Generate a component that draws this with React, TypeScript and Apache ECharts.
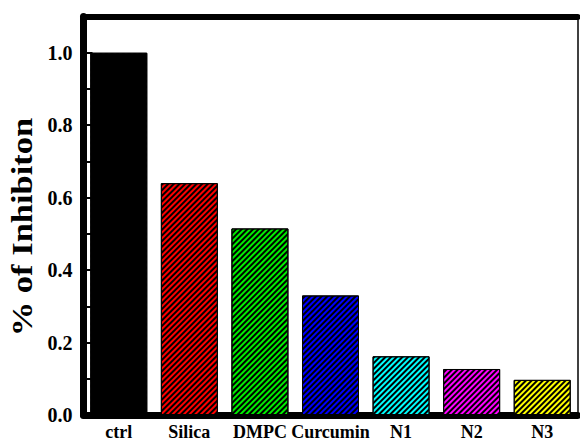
import React, { useEffect, useRef } from "react";
import * as echarts from "echarts";

const categories = ["ctrl", "Silica", "DMPC", "Curcumin", "N1", "N2", "N3"];
const values = [1.0, 0.64, 0.515, 0.33, 0.162, 0.127, 0.097];
const barColors = ["#000000", "#ff0000", "#00ee00", "#0000ff", "#00ffff", "#ff00ff", "#ffff00"];
const yAxisTitle = "% of Inhibiton";

export default function App() {
  const ref = useRef<HTMLDivElement>(null);
  useEffect(() => {
    if (!ref.current) return;
    const chart = echarts.init(ref.current, null, { renderer: "svg" });
    const font = "'Liberation Serif', 'Times New Roman', serif";
    chart.setOption({
      animation: false,
      grid: { left: 83.5, right: 2.5, top: 16.5, bottom: 22.5 },
      xAxis: [
        {
          type: "category",
          data: categories,
          position: "bottom",
          axisLine: { show: true, onZero: false, lineStyle: { color: "#000", width: 7 } },
          axisTick: { show: false },
          axisLabel: { color: "#000", fontFamily: font, fontWeight: "bold", fontSize: 18, margin: 8, interval: 0 },
        },
        {
          type: "category",
          data: categories,
          position: "top",
          axisLine: { show: true, onZero: false, lineStyle: { color: "#000", width: 6 } },
          axisTick: { show: false },
          axisLabel: { show: false },
        },
      ],
      yAxis: [
        {
          type: "value",
          min: 0,
          max: 1.1,
          interval: 0.1,
          position: "left",
          splitLine: { show: false },
          axisLine: { show: true, onZero: false, lineStyle: { color: "#000", width: 7 } },
          axisTick: { show: true, inside: true, length: 9, lineStyle: { color: "#000", width: 2 } },
          axisLabel: {
            color: "#000",
            fontFamily: font,
            fontWeight: "bold",
            fontSize: 20,
            margin: 11,
            showMaxLabel: false,
            formatter: (v: number) => {
              const k = Math.round(v * 10);
              return k % 2 === 0 && k <= 10 ? (k / 10).toFixed(1) : "";
            },
          },
        },
        {
          type: "value",
          min: 0,
          max: 1.1,
          position: "right",
          splitLine: { show: false },
          axisLine: { show: true, onZero: false, lineStyle: { color: "#000", width: 1.5 } },
          axisTick: { show: false },
          axisLabel: { show: false },
        },
      ],
      graphic: [
        {
          type: "text",
          x: 22,
          y: 227,
          rotation: Math.PI / 2,
          scaleX: 1.15,
          style: {
            text: yAxisTitle,
            fontFamily: font,
            fontWeight: "bold",
            fontSize: 30,
            fill: "#000",
            align: "center",
            verticalAlign: "middle",
          },
        },
      ],
      series: [
        {
          type: "bar",
          xAxisIndex: 0,
          yAxisIndex: 0,
          barWidth: 57,
          data: values.map((v, i) => ({
            value: v,
            itemStyle: {
              color: barColors[i],
              borderColor: "#000",
              borderWidth: 1,
              decal: {
                symbol: "rect",
                symbolSize: 1,
                color: "#000",
                dashArrayX: [1, 0],
                dashArrayY: [1.2, 1.8],
                rotation: -Math.PI / 4,
              },
            },
          })),
        },
      ],
    });
    return () => chart.dispose();
  }, []);
  return <div ref={ref} style={{ width: 580, height: 441, position: "absolute", left: 0, top: 0 }} />;
}
